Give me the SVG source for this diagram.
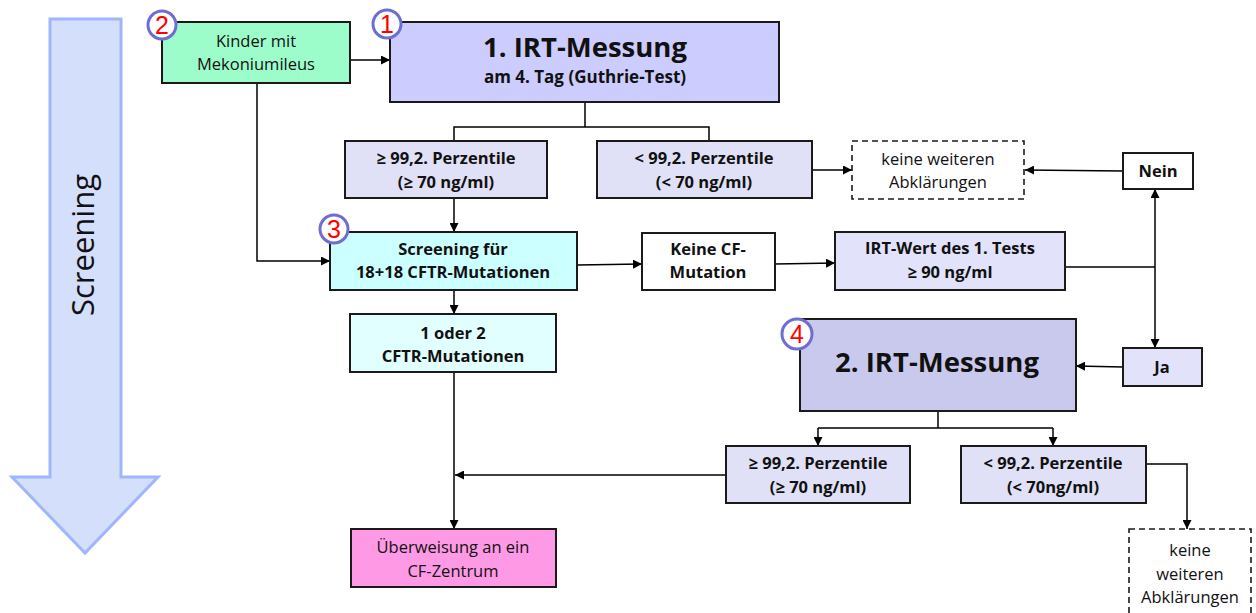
<svg xmlns="http://www.w3.org/2000/svg" width="1256" height="613" viewBox="0 0 1256 613">
<defs>
<marker id="ah" viewBox="0 0 10 10" refX="10" refY="5" markerWidth="9" markerHeight="9" markerUnits="userSpaceOnUse" orient="auto">
<path d="M0,0 L10,5 L0,10 z" fill="#000"/>
</marker>
</defs>
<style>
.box{stroke:#1a1a1a;stroke-width:2}
.dash{fill:#fff;stroke:#1a1a1a;stroke-width:1.6;stroke-dasharray:6,4}
.t{font-family:"Open Sans","Liberation Sans",sans-serif;font-size:16.5px;fill:#111;text-anchor:middle}
.b{font-weight:bold}
.big{font-size:27.5px;font-weight:bold}
.sub{font-size:17px}
.con{fill:none;stroke:#000;stroke-width:1.5}
.arr{marker-end:url(#ah)}
.badge circle{fill:#fff;stroke:#6e6ed2;stroke-width:3}
.badge text{font-family:"Liberation Sans",Arial,sans-serif;font-size:25px;fill:#f00;text-anchor:middle}
</style>
<rect width="1256" height="613" fill="#fff"/>

<g id="screening-arrow">
<polygon points="50,19 121,19 121,477 158,477 85,553 12,477 50,477" fill="#d4dffc" stroke="#a0b6fb" stroke-width="3"/>
<text class="t" transform="translate(94,245) rotate(-90)" style="font-size:31px">Screening</text>
</g>

<g id="connectors">
<path class="con arr" d="M350,60 H390"/>
<path class="con" d="M585,102 V127 M454,141 V127 H709 V141"/>
<path class="con arr" d="M454,198 V232"/>
<path class="con arr" d="M812,170 H852"/>
<path class="con arr" d="M1123,171 L1025,170"/>
<path class="con arr" d="M257,83 V261 H330"/>
<path class="con arr" d="M577,265 L642,264"/>
<path class="con arr" d="M775,264 L835,263"/>
<path class="con" d="M1065,267 H1155"/>
<path class="con arr" d="M1155,267 V189"/>
<path class="con arr" d="M1155,267 V348"/>
<path class="con arr" d="M1123,367 L1076,366"/>
<path class="con arr" d="M454,290 V314"/>
<path class="con arr" d="M454,372 V529"/>
<path class="con arr" d="M726,475 H455"/>
<path class="con" d="M938,411 V428 M818,428 H1053"/>
<path class="con arr" d="M818,428 V446"/>
<path class="con arr" d="M1053,428 V446"/>
<path class="con arr" d="M1146,464 H1187 V529"/>
</g>

<g id="kinder">
<rect class="box" x="162" y="22" width="188" height="61" fill="#9cfdcb"/>
<text class="t" x="256" y="47">Kinder mit</text>
<text class="t" x="256" y="70">Mekoniumileus</text>
</g>

<g id="irt1">
<rect class="box" x="390" y="22" width="389" height="80" fill="#ccccfe"/>
<text class="t big" x="585" y="57">1. IRT-Messung</text>
<text class="t b sub" x="585" y="83">am 4. Tag (Guthrie-Test)</text>
</g>

<g id="perz-hoch-1">
<rect class="box" x="345" y="141" width="202" height="57" fill="#e0e0f6"/>
<text class="t b" x="446" y="164">≥ 99,2. Perzentile</text>
<text class="t b" x="446" y="188">(≥ 70 ng/ml)</text>
</g>

<g id="perz-tief-1">
<rect class="box" x="597" y="141" width="215" height="57" fill="#e0e0f6"/>
<text class="t b" x="704" y="164">&lt; 99,2. Perzentile</text>
<text class="t b" x="704" y="188">(&lt; 70 ng/ml)</text>
</g>

<g id="keine-1">
<rect class="dash" x="852" y="141" width="172" height="58"/>
<text class="t" x="938" y="165">keine weiteren</text>
<text class="t" x="938" y="188">Abklärungen</text>
</g>

<g id="nein">
<rect class="box" x="1123" y="153" width="70" height="36" fill="#fff"/>
<text class="t b" x="1158" y="177">Nein</text>
</g>

<g id="screening">
<rect class="box" x="330" y="232" width="247" height="58" fill="#ccffff"/>
<text class="t b" x="453" y="255">Screening für</text>
<text class="t b" x="453" y="278">18+18 CFTR-Mutationen</text>
</g>

<g id="keine-cf">
<rect class="box" x="642" y="233" width="133" height="57" fill="#fff"/>
<text class="t b" x="708" y="255">Keine CF-</text>
<text class="t b" x="708" y="278">Mutation</text>
</g>

<g id="irt-wert">
<rect class="box" x="835" y="232" width="230" height="58" fill="#e2e2fb"/>
<text class="t b" x="950" y="254">IRT-Wert des 1. Tests</text>
<text class="t b" x="950" y="278">≥ 90 ng/ml</text>
</g>

<g id="mutationen">
<rect class="box" x="350" y="314" width="206" height="58" fill="#e2ffff"/>
<text class="t b" x="453" y="339">1 oder 2</text>
<text class="t b" x="453" y="362">CFTR-Mutationen</text>
</g>

<g id="irt2">
<rect class="box" x="800" y="319" width="276" height="92" fill="#c9c9ee"/>
<text class="t big" x="937" y="372">2. IRT-Messung</text>
</g>

<g id="ja">
<rect class="box" x="1123" y="348" width="79" height="38" fill="#e2e2fb"/>
<text class="t b" x="1162" y="373">Ja</text>
</g>

<g id="perz-hoch-2">
<rect class="box" x="726" y="446" width="184" height="57" fill="#e0e0f6"/>
<text class="t b" x="818" y="469">≥ 99,2. Perzentile</text>
<text class="t b" x="818" y="493">(≥ 70 ng/ml)</text>
</g>

<g id="perz-tief-2">
<rect class="box" x="961" y="446" width="185" height="57" fill="#e0e0f6"/>
<text class="t b" x="1053" y="469">&lt; 99,2. Perzentile</text>
<text class="t b" x="1053" y="493">(&lt; 70ng/ml)</text>
</g>

<g id="ueberweisung">
<rect class="box" x="351" y="529" width="205" height="58" fill="#fe99e5"/>
<text class="t" x="453" y="553">Überweisung an ein</text>
<text class="t" x="453" y="577">CF-Zentrum</text>
</g>

<g id="keine-2">
<rect class="dash" x="1129" y="529" width="122" height="95"/>
<text class="t" x="1190" y="556">keine</text>
<text class="t" x="1190" y="580">weiteren</text>
<text class="t" x="1190" y="603">Abklärungen</text>
</g>

<g id="badge-1" class="badge"><circle cx="387" cy="24" r="14"/><text x="387" y="33">1</text></g>
<g id="badge-2" class="badge"><circle cx="162" cy="25" r="14"/><text x="162" y="34">2</text></g>
<g id="badge-3" class="badge"><circle cx="334" cy="229" r="14"/><text x="334" y="238">3</text></g>
<g id="badge-4" class="badge"><circle cx="797" cy="334" r="15"/><text x="797" y="343">4</text></g>
</svg>
